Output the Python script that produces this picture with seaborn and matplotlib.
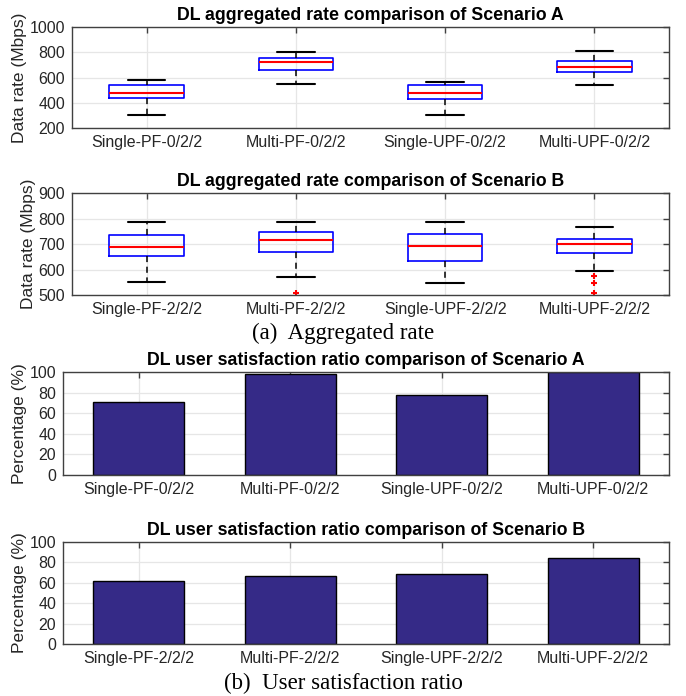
import matplotlib
matplotlib.use("Agg")
import matplotlib.pyplot as plt
import seaborn as sns
import pandas as pd
from matplotlib import font_manager as fm

sns.set_theme(style="white")
avail = {f.name for f in fm.fontManager.ttflist}
fams = [f for f in ["Liberation Sans Narrow", "Liberation Sans", "DejaVu Sans"] if f in avail]
plt.rcParams['font.family'] = fams

# ---------------- data ----------------
labels_a = ["Single-PF-0/2/2", "Multi-PF-0/2/2", "Single-UPF-0/2/2", "Multi-UPF-0/2/2"]
labels_b = ["Single-PF-2/2/2", "Multi-PF-2/2/2", "Single-UPF-2/2/2", "Multi-UPF-2/2/2"]

# Scenario A box stats
a_low = [306, 546, 303, 544]
a_q1 = [434, 660, 428, 647]
a_med = [477, 719, 476, 683]
a_q3 = [540, 751, 537, 728]
a_high = [577, 803, 568, 807]
a_fliers = [[], [], [], []]

# Scenario B box stats
b_low = [550, 571, 548, 593]
b_q1 = [651, 670, 634, 666]
b_med = [689, 714, 691, 699]
b_q3 = [737, 746, 740, 721]
b_high = [787, 787, 787, 765]
b_fliers = [[], [509], [], [573, 546, 509]]

# satisfaction ratio
sat_a = [70.5, 98.2, 77.6, 100.0]
sat_b = [61.8, 67.1, 68.8, 84.2]

# ---------------- figure ----------------
W, H = 686, 696
fig = plt.figure(figsize=(W / 100, H / 100), dpi=100)

def axes_px(left, top, right, bottom):
    return fig.add_axes([left / W, 1 - bottom / H, (right - left) / W, (bottom - top) / H])

AX_COL = "#404040"
GRID_COL = "#e6e6e6"
BAR_COL = "#352A87"

def style(ax):
    ax.set_axisbelow(True)
    ax.grid(True, color=GRID_COL, linewidth=0.9)
    for s in ax.spines.values():
        s.set_color(AX_COL)
        s.set_linewidth(1.0)
        s.set_visible(True)
    ax.tick_params(direction="in", length=4, width=1.0, color=AX_COL,
                   top=True, right=True, labelsize=11.5, labelcolor="#262626", pad=5)
    ax.set_xlim(-0.5, 3.5)

def box_panel(ax, labels, low, q1, med, q3, high, fliers, ylim, yticks, title):
    stats = []
    for i in range(len(labels)):
        stats.append(dict(whislo=low[i], q1=q1[i], med=med[i], q3=q3[i],
                          whishi=high[i], fliers=fliers[i], label=labels[i]))
    ax.bxp(stats, positions=range(len(labels)), widths=0.5, capwidths=0.25,
           showfliers=True,
           boxprops=dict(color="blue", linewidth=1.2),
           medianprops=dict(color="red", linewidth=1.5),
           whiskerprops=dict(color="black", linestyle=(0, (4, 3)), linewidth=1.1),
           capprops=dict(color="black", linewidth=1.5),
           flierprops=dict(marker="+", markeredgecolor="red", markersize=5, markeredgewidth=1.5))
    style(ax)
    ax.set_ylim(*ylim)
    ax.set_yticks(yticks)
    ax.set_xticks(range(len(labels)))
    ax.set_xticklabels(labels)
    ax.set_ylabel("Data rate (Mbps)", fontsize=12.5, color="#262626", labelpad=2)
    ax.set_title(title, fontsize=12.8, fontweight="bold", pad=5, color="#000000")

def bar_panel(ax, labels, vals, title):
    df = pd.DataFrame({"cat": labels, "val": vals})
    sns.barplot(data=df, x="cat", y="val", ax=ax, color=BAR_COL, saturation=1,
                width=0.6, edgecolor="black", linewidth=1.0)
    style(ax)
    ax.set_ylim(0, 100)
    ax.set_yticks(range(0, 101, 20))
    ax.set_xlabel("")
    ax.set_ylabel("Percentage (%)", fontsize=12.5, color="#262626", labelpad=2)
    ax.set_title(title, fontsize=12.8, fontweight="bold", pad=5, color="#000000")

ax1 = axes_px(72, 27, 669, 128)
box_panel(ax1, labels_a, a_low, a_q1, a_med, a_q3, a_high, a_fliers,
          (200, 1000), range(200, 1001, 200), "DL aggregated rate comparison of Scenario A")

ax2 = axes_px(72, 193, 669, 295)
box_panel(ax2, labels_b, b_low, b_q1, b_med, b_q3, b_high, b_fliers,
          (500, 900), range(500, 901, 100), "DL aggregated rate comparison of Scenario B")

fig.text(0.5, 1 - 333 / H, "(a)  Aggregated rate", ha="center", va="center",
         fontsize=16.5, family=["Liberation Serif", "DejaVu Serif"], color="black")

ax3 = axes_px(63, 372, 669, 475)
bar_panel(ax3, labels_a, sat_a, "DL user satisfaction ratio comparison of Scenario A")

ax4 = axes_px(63, 542, 669, 644)
bar_panel(ax4, labels_b, sat_b, "DL user satisfaction ratio comparison of Scenario B")

fig.text(0.5, 1 - 683 / H, "(b)  User satisfaction ratio", ha="center", va="center",
         fontsize=16.5, family=["Liberation Serif", "DejaVu Serif"], color="black")

fig.savefig("out.png", dpi=100, facecolor="white")
